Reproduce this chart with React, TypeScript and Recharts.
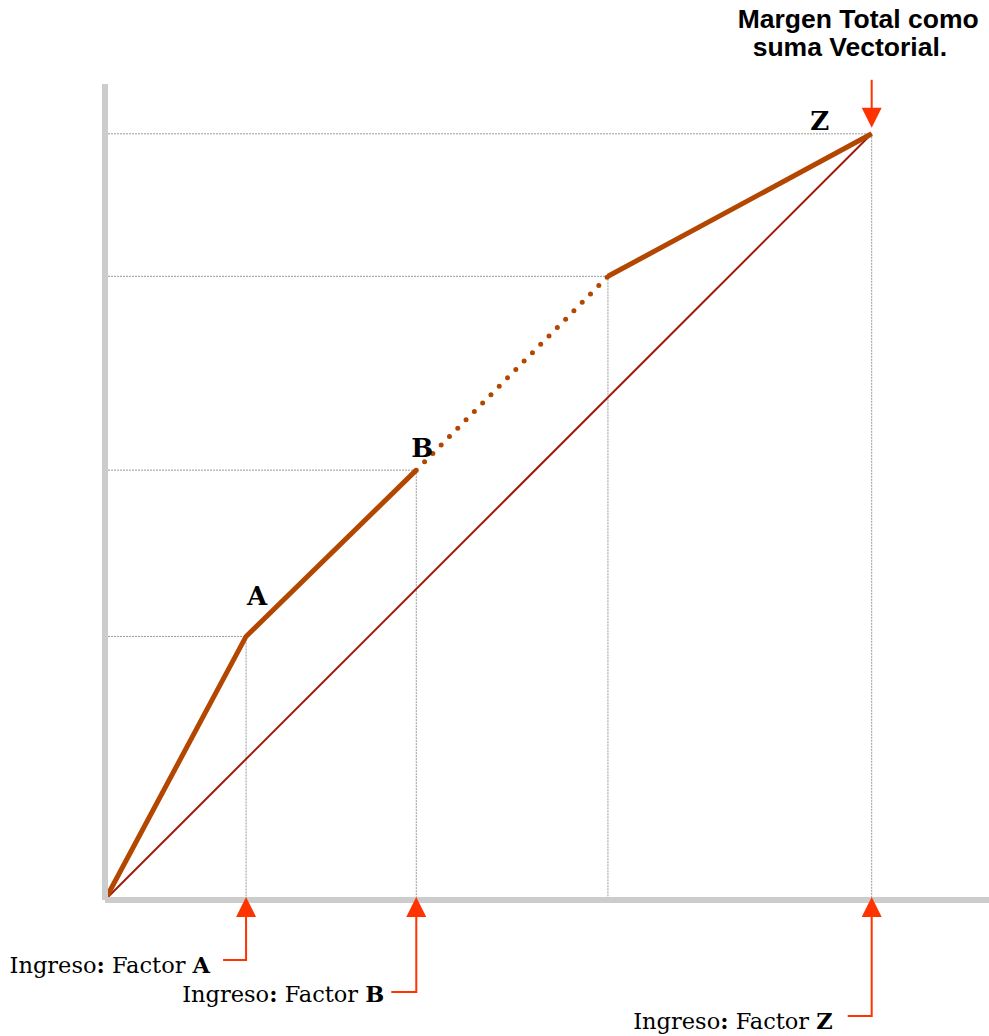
import { LineChart, Line, XAxis, YAxis, ReferenceLine, ReferenceDot } from "recharts";

// points of the path (Z = 100, 100)
const pointNames = ["O", "A", "B", "C", "Z"];
const ingresoX = [0, 18.4, 40.6, 65.6, 100];
const margenY = [0, 34.4, 56.1, 81.4, 100];
const factorLabels = ["A", "B", "Z"];
const titleLines = ["Margen Total como", "suma Vectorial."];

const pts = pointNames.map((name, i) => ({ name, x: ingresoX[i], y: margenY[i] }));
const pick = (...names: string[]) => names.map((n) => pts.find((p) => p.name === n)!);

const ORANGE = "#b34700";
const ARROW = "#ff3300";
const GRID = "#9a9a9a";
const serif = "'DejaVu Serif', serif";

// arrow drop / elbow / text offsets for each factor arrow, in px
const arrowLayout: Record<string, { drop: number; elbow: number; textDx: number; textDy: number }> = {
  A: { drop: 60, elbow: 23, textDx: -36, textDy: 13 },
  B: { drop: 92, elbow: 25, textDx: -32, textDy: 10 },
  Z: { drop: 116, elbow: 24, textDx: -39, textDy: 13 },
};

const labelOffset: Record<string, [number, number]> = {
  A: [11, -31],
  B: [6, -13],
  Z: [-52, -4],
};

const FactorArrow = (letter: string) => (props: any) => {
  const { cx, cy } = props;
  const l = arrowLayout[letter];
  return (
    <g>
      <polygon points={`${cx},${cy - 3} ${cx - 10},${cy + 17} ${cx + 10},${cy + 17}`} fill={ARROW} />
      <polyline
        points={`${cx},${cy + 16} ${cx},${cy + l.drop} ${cx - l.elbow},${cy + l.drop}`}
        fill="none"
        stroke={ARROW}
        strokeWidth={2}
      />
      <text x={cx + l.textDx} y={cy + l.drop + l.textDy} textAnchor="end" fontFamily={serif} fontSize={22.5} fill="#000">
        Ingreso<tspan fontWeight="bold">:</tspan> Factor <tspan fontWeight="bold">{letter}</tspan>
      </text>
    </g>
  );
};

const TopArrow = (props: any) => {
  const { cx, cy } = props;
  return (
    <g>
      <line x1={cx} y1={cy - 54} x2={cx} y2={cy - 25} stroke={ARROW} strokeWidth={2} />
      <polygon points={`${cx},${cy - 6} ${cx - 10},${cy - 26} ${cx + 10},${cy - 26}`} fill={ARROW} />
      <text fontFamily="'Liberation Sans', Arial, sans-serif" fontWeight="bold" fontSize={26.5} fill="#000">
        <tspan x={cx - 134} y={cy - 106}>{titleLines[0]}</tspan>
        <tspan x={cx - 119} y={cy - 78}>{titleLines[1]}</tspan>
      </text>
    </g>
  );
};

const PointLabel = (letter: string) => (props: any) => {
  const { cx, cy } = props;
  const [dx, dy] = labelOffset[letter];
  return (
    <text x={cx + dx} y={cy + dy} textAnchor="middle" fontFamily={serif} fontWeight="bold" fontSize={26} fill="#000">
      {letter}
    </text>
  );
};

export default function App() {
  const guides = pick("A", "B", "C", "Z");
  const z = pick("Z")[0];
  return (
    <div style={{ position: "absolute", left: 0, top: 0 }}>
      <LineChart width={989} height={1036} margin={{ top: 84, right: 0, bottom: 135, left: 104 }}>
        <XAxis
          type="number"
          dataKey="x"
          domain={[0, 115.3]}
          tick={false}
          tickLine={false}
          height={1}
          axisLine={{ stroke: "#cccccc", strokeWidth: 6 }}
        />
        <YAxis
          type="number"
          dataKey="y"
          domain={[0, 106.5]}
          tick={false}
          tickLine={false}
          width={1}
          axisLine={{ stroke: "#cccccc", strokeWidth: 6 }}
        />
        {guides.map((p) => (
          <ReferenceLine
            key={"h" + p.name}
            segment={[{ x: 0, y: p.y }, { x: p.x, y: p.y }]}
            stroke={GRID}
            strokeDasharray="2 1"
            ifOverflow="visible"
          />
        ))}
        {guides.map((p) => (
          <ReferenceLine
            key={"v" + p.name}
            segment={[{ x: p.x, y: p.y }, { x: p.x, y: 0 }]}
            stroke={GRID}
            strokeDasharray="2 1"
            ifOverflow="visible"
          />
        ))}
        <Line data={pick("O", "Z")} dataKey="y" stroke="#9e1b0c" strokeWidth={2} dot={false} isAnimationActive={false} />
        <Line data={pick("O", "A", "B")} dataKey="y" stroke={ORANGE} strokeWidth={5} dot={false} isAnimationActive={false} />
        <Line
          data={pick("B", "C")}
          dataKey="y"
          stroke={ORANGE}
          strokeWidth={5}
          strokeLinecap="round"
          strokeDasharray="0 11.8"
          dot={false}
          isAnimationActive={false}
        />
        <Line data={pick("C", "Z")} dataKey="y" stroke={ORANGE} strokeWidth={5} dot={false} isAnimationActive={false} />
        {factorLabels.map((f) => {
          const p = pick(f)[0];
          return <ReferenceDot key={"l" + f} x={p.x} y={p.y} ifOverflow="visible" shape={PointLabel(f)} />;
        })}
        {factorLabels.map((f) => {
          const p = pick(f)[0];
          return <ReferenceDot key={"a" + f} x={p.x} y={0} ifOverflow="visible" shape={FactorArrow(f)} />;
        })}
        <ReferenceDot x={z.x} y={z.y} ifOverflow="visible" shape={TopArrow} />
      </LineChart>
    </div>
  );
}
